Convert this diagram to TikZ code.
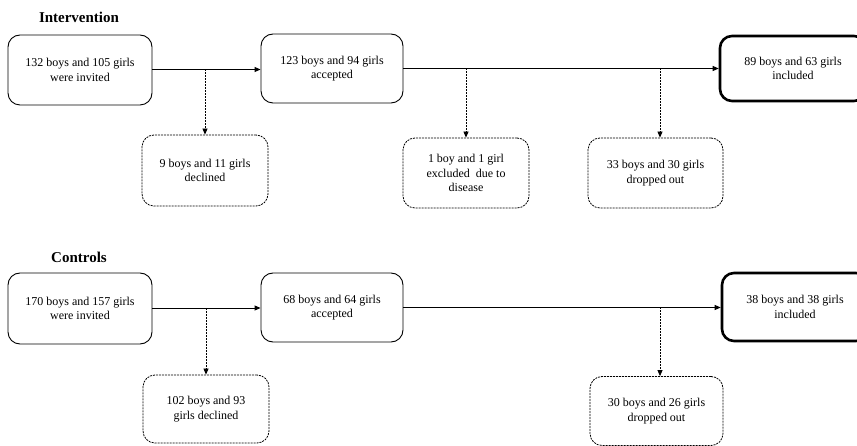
\documentclass[tikz,border=0pt]{standalone}
\usepackage{fontspec}
\setmainfont{Liberation Serif}
\usetikzlibrary{arrows.meta}
\tikzset{
  box/.style={draw, rounded corners=12pt, align=center, inner sep=2pt,
    line width=0.9pt, font=\fontsize{12}{14.5}\selectfont},
  sidebox/.style={box, dashed, dash pattern=on 2pt off 1pt, line width=0.8pt},
  finalbox/.style={box, line width=2.6pt},
  title/.style={font=\fontsize{15}{17}\selectfont\bfseries},
  flow/.style={line width=0.9pt, -{Triangle[length=6pt,width=5pt]}},
  sideflow/.style={line width=0.8pt, dash pattern=on 2pt off 1pt, -{Triangle[length=6pt,width=5pt]}}
}
\begin{document}
\begin{tikzpicture}[x=1pt,y=-1pt]
\useasboundingbox (0,0) rectangle (857,446);
% Intervention
\node[title] (tI) at (79,17) {Intervention};
\node[box, minimum width=144pt, minimum height=70pt] (A1) at (80,70) {132 boys and 105 girls\\were invited};
\node[box, minimum width=142pt, minimum height=69pt] (B1) at (332,68.5) {123 boys and 94 girls\\accepted};
\node[finalbox, minimum width=146pt, minimum height=65pt] (C1) at (793,68.5) {89 boys and 63 girls\\included};
\node[sidebox, minimum width=126pt, minimum height=71pt] (D1) at (205,170.5) {9 boys and 11 girls\\declined};
\node[sidebox, minimum width=126pt, minimum height=70pt] (E1) at (466,173) {1 boy and 1 girl\\excluded\ \ due to\\disease};
\node[sidebox, minimum width=135pt, minimum height=70pt] (F1) at (655.5,173) {33 boys and 30 girls\\dropped out};
\draw[flow] (A1.east |- 0,69.5) -- (B1.west |- 0,69.5);
\draw[flow] (B1.east) -- (C1.west |- B1.east);
\coordinate (d1) at (205,69.5);
\coordinate (e1) at (466,68.5);
\coordinate (f1) at (660,68.5);
\draw[sideflow] (d1) -- (D1.north -| d1);
\draw[sideflow] (e1) -- (E1.north -| e1);
\draw[sideflow] (f1) -- (F1.north -| f1);
% Controls
\node[title] (tC) at (79,257) {Controls};
\node[box, minimum width=144pt, minimum height=71pt] (A2) at (80,308.5) {170 boys and 157 girls\\were invited};
\node[box, minimum width=142pt, minimum height=69pt] (B2) at (332,307.5) {68 boys and 64 girls\\accepted};
\node[finalbox, minimum width=146pt, minimum height=68pt] (C2) at (795,307) {38 boys and 38 girls\\included};
\node[sidebox, minimum width=126pt, minimum height=68pt] (D2) at (206,409) {102 boys and 93\\girls declined};
\node[sidebox, minimum width=133pt, minimum height=69pt] (F2) at (656.5,411) {30 boys and 26 girls\\dropped out};
\draw[flow] (A2.east |- 0,308) -- (B2.west |- 0,308);
\draw[flow] (B2.east |- 0,307.5) -- (C2.west |- 0,307.5);
\coordinate (d2) at (206,308);
\coordinate (f2) at (660,307.5);
\draw[sideflow] (d2) -- (D2.north -| d2);
\draw[sideflow] (f2) -- (F2.north -| f2);
\end{tikzpicture}
\end{document}
